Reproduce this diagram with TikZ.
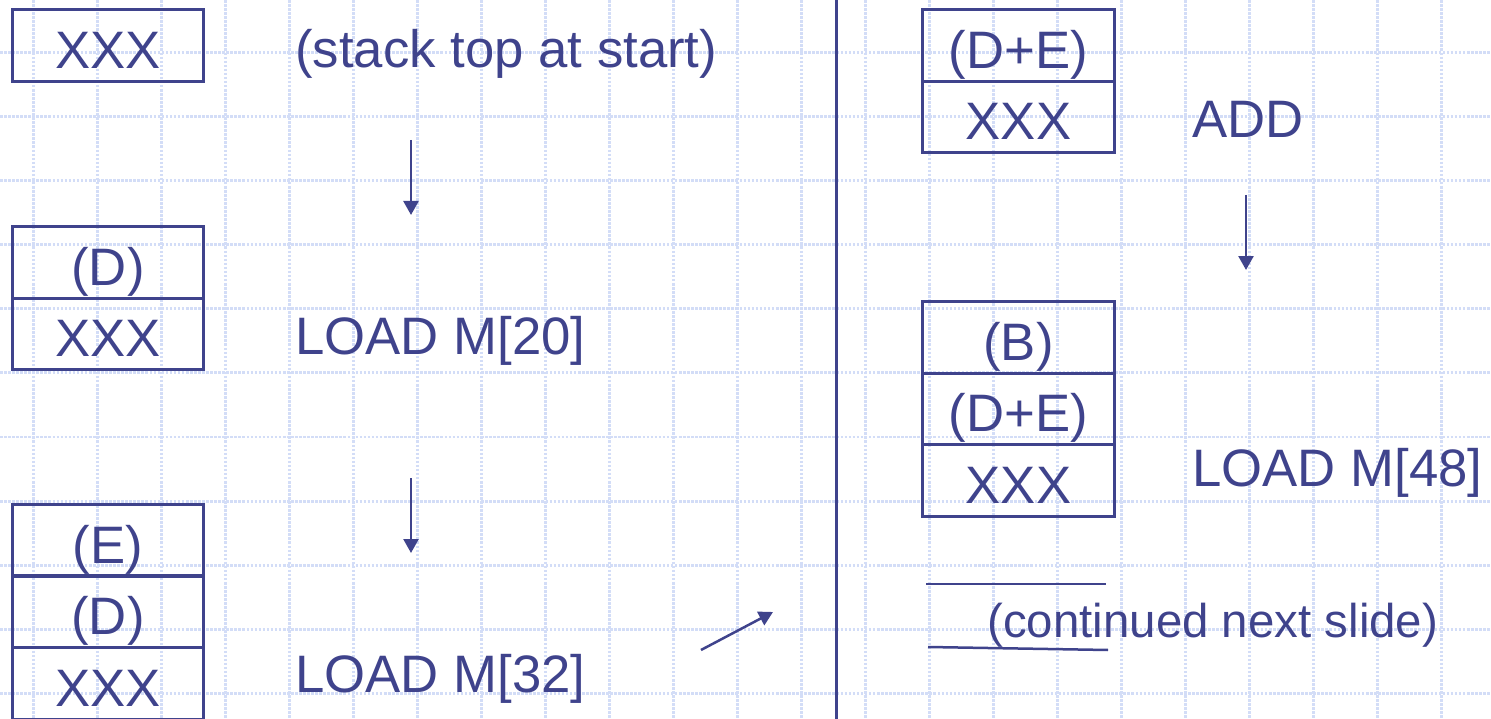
\documentclass[tikz,border=0pt]{standalone}
\usepackage{fontspec}
\setmainfont{Liberation Sans}
\usetikzlibrary{arrows.meta, positioning}
\definecolor{cink}{HTML}{3F438C}
\definecolor{cgrid}{HTML}{D3DDF7}

\begin{document}
\begin{tikzpicture}[x=0.02cm, y=-0.02cm,
    cell/.style={draw=cink, line width=0.06cm, minimum width=3.84cm, minimum height=1.43cm, outer sep=0pt, inner sep=0pt, text height=26pt, text depth=0pt, font=\fontsize{30}{36}\selectfont, text=cink},
    lbl/.style={anchor=base west, inner sep=0pt, font=\fontsize{30}{36}\selectfont, text=cink},
    flow/.style={-{Triangle[length=0.28cm, width=0.3cm]}, draw=cink, line width=0.05cm},
    rule/.style={draw=cink, line width=0.05cm},
    gridline/.style={cgrid, line width=0.06cm, dash pattern=on 1.5pt off 0.8pt}]
    \useasboundingbox (0,0) rectangle (1491,719);
    \clip (0,0) rectangle (1491,719);
    % background grid
    \foreach \gx in {33,97,...,1480} \draw[gridline] (\gx,0) -- (\gx,719);
    \foreach \gy in {53,117,...,719} \draw[gridline] (0,\gy) -- (1491,\gy);
    % left column of stacks
    \node (s0) [cell] at (108,45.5) {XXX};
    \node (s1d) [cell] at (108,262.5) {(D)};
    \node (s1x) [cell, below=0pt of s1d] {XXX};
    \node (s2e) [cell] at (108,540.5) {(E)};
    \node (s2d) [cell, below=0pt of s2e] {(D)};
    \node (s2x) [cell, below=0pt of s2d] {XXX};
    \draw[cink, line width=0.09cm] (s2e.south west) -- (s2e.south east);
    % right column of stacks
    \node (r0s) [cell] at (1018.5,45.5) {(D+E)};
    \node (r0x) [cell, below=0pt of r0s] {XXX};
    \node (r1b) [cell] at (1018.5,337.5) {(B)};
    \node (r1s) [cell, below=0pt of r1b] {(D+E)};
    \node (r1x) [cell, below=0pt of r1s] {XXX};
    % labels
    \node (t0) [lbl] at (295,68) {(stack top at start)};
    \node (t1) [lbl] at (295,355) {LOAD M[20]};
    \node (t2) [lbl] at (295,692) {LOAD M[32]};
    \node (t3) [lbl] at (1192,138) {ADD};
    \node (t4) [lbl] at (1192,486) {LOAD M[48]};
    \node (t5) [lbl, font=\fontsize{27}{32}\selectfont] at (987,637) {(continued next slide)};
    % arrows
    \foreach \ax/\ay [count=\k] in {411/140, 411/478, 1246/195} {
        \coordinate (d\k) at (\ax,\ay);
        \coordinate (e\k) at (\ax,\ay+75);
        \draw[flow] (d\k) -- (e\k);
    }
    \coordinate (g0) at (701,650);
    \coordinate (g1) at (773,612);
    \draw[flow] (g0) -- (g1);
    % divider and rules
    \coordinate (v0) at (836,0);
    \coordinate (v1) at (836,719);
    \draw[cink, line width=0.06cm] (v0) -- (v1);
    \coordinate (h0) at (926,584);
    \coordinate (h1) at (1106,584);
    \coordinate (h2) at (928,647);
    \coordinate (h3) at (1108,650);
    \draw[rule] (h0) -- (h1);
    \draw[rule] (h2) -- (h3);
\end{tikzpicture}
\end{document}
